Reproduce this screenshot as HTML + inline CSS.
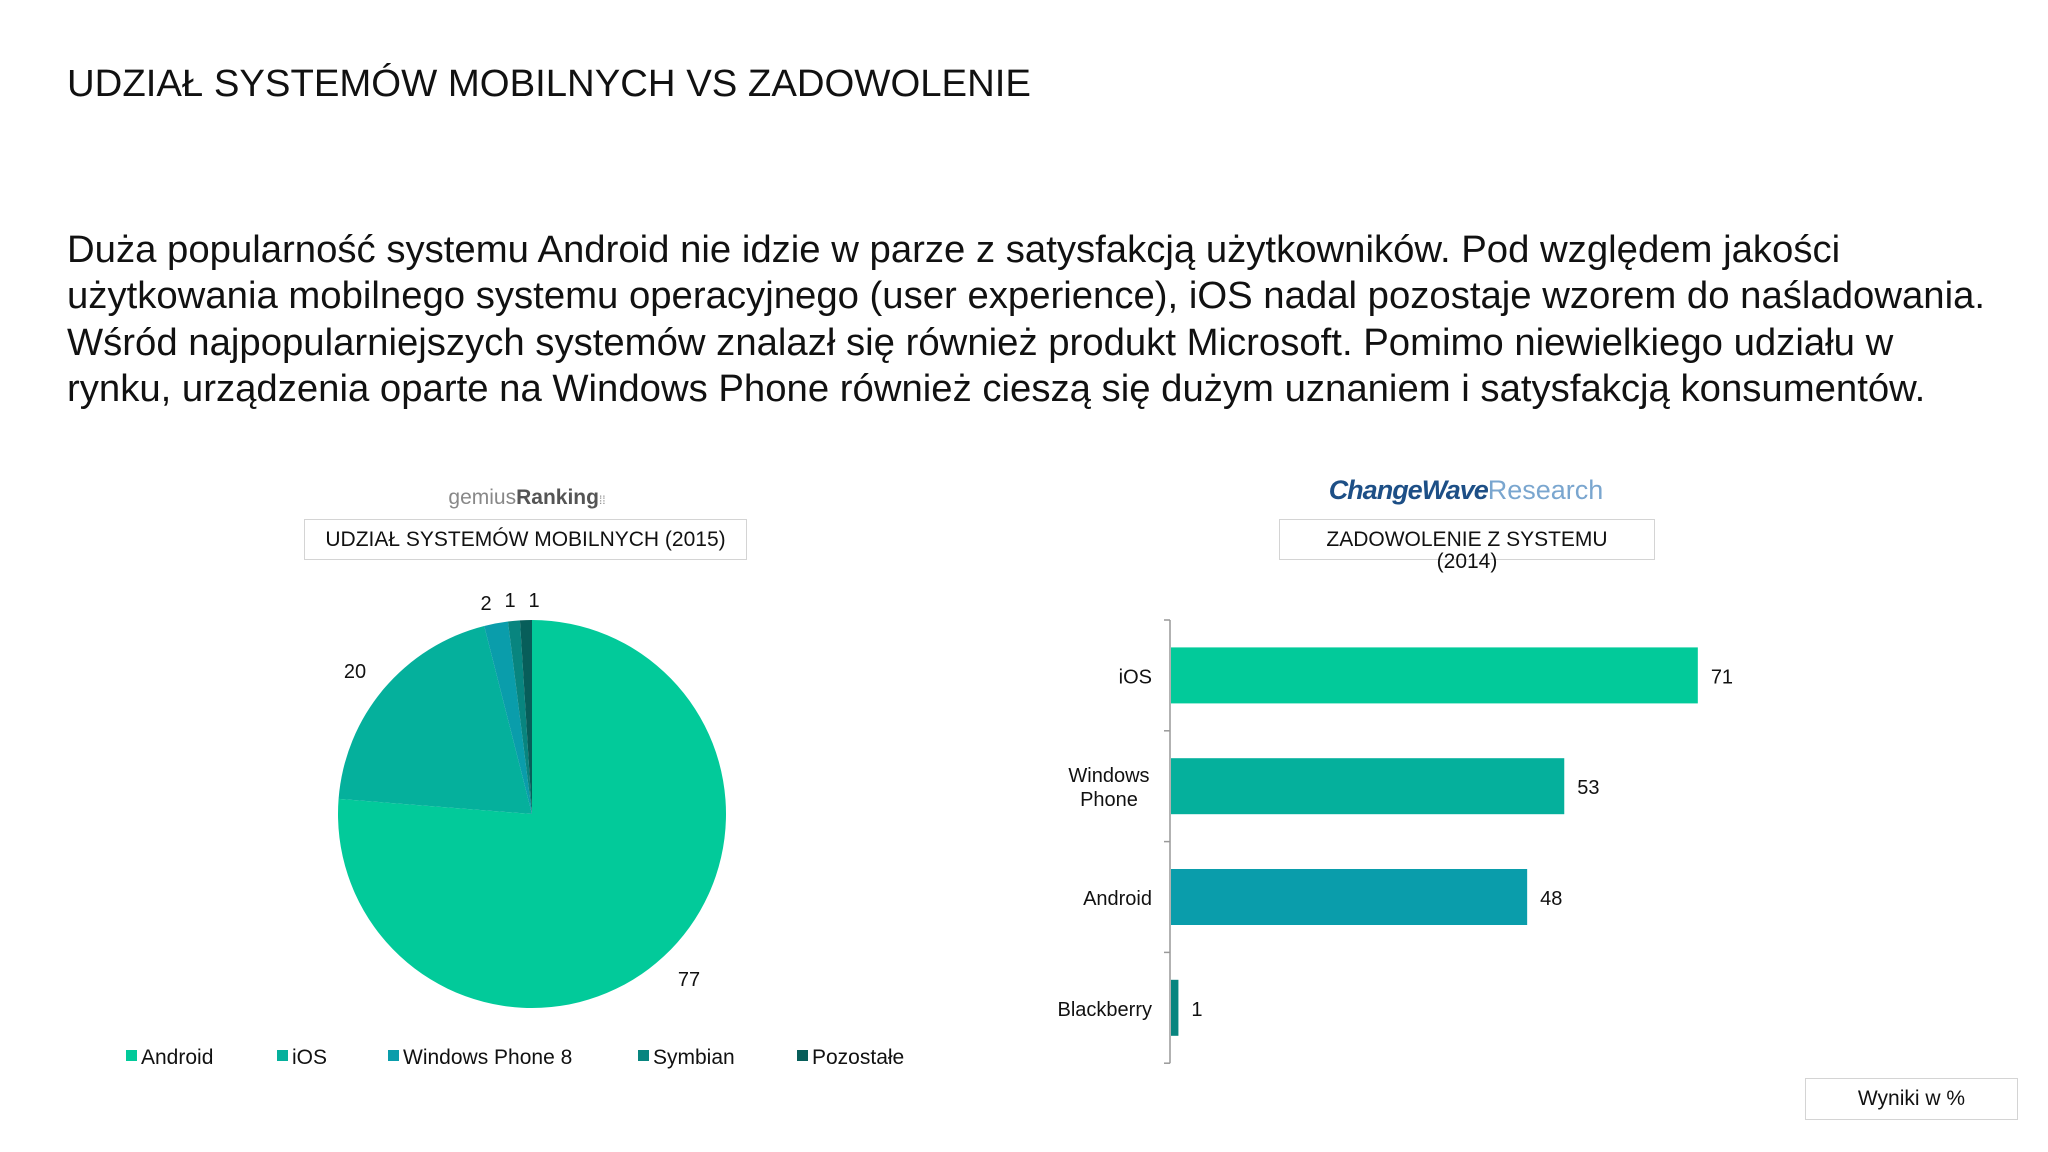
<!DOCTYPE html>
<html><head><meta charset="utf-8"><style>
body{margin:0;width:2048px;height:1152px;background:#fff;position:relative;overflow:hidden;font-family:"Liberation Sans",Arial,sans-serif;color:#111}
.abs{position:absolute}
.box{position:absolute;border:1.5px solid #d4d4d4;box-sizing:border-box;text-align:center;font-size:21px}
</style></head><body>
<div class="abs" style="left:67px;top:62px;font-size:38.3px;white-space:nowrap">UDZIAŁ SYSTEMÓW MOBILNYCH VS ZADOWOLENIE</div>
<div class="abs" style="left:67px;top:227px;font-size:38.3px;line-height:46.3px;white-space:nowrap">Duża popularność systemu Android nie idzie w parze z satysfakcją użytkowników. Pod względem jakości<br>użytkowania mobilnego systemu operacyjnego (user experience), iOS nadal pozostaje wzorem do naśladowania.<br>Wśród najpopularniejszych systemów znalazł się również produkt Microsoft. Pomimo niewielkiego udziału w<br>rynku, urządzenia oparte na Windows Phone również cieszą się dużym uznaniem i satysfakcją konsumentów.</div>

<div class="abs" style="left:427px;top:486px;width:200px;text-align:center;font-size:21px;color:#888">gemius<b style="color:#555">Ranking</b><span style="font-size:12px">⁞⁞</span></div>
<div class="box" style="left:304px;top:519px;width:443px;height:41px;line-height:39px">UDZIAŁ SYSTEMÓW MOBILNYCH (2015)</div>

<div class="abs" style="left:1313px;top:475px;width:306px;text-align:center;font-size:27px;white-space:nowrap"><i style="color:#1d4f86;font-weight:bold;letter-spacing:-1px">ChangeWave</i><span style="color:#7aa6cf">Research</span></div>
<div class="box" style="left:1279px;top:519px;width:376px;height:41px;line-height:22px;padding-top:9px;overflow:visible">ZADOWOLENIE Z SYSTEMU<br>(2014)</div>
<div class="box" style="left:1805px;top:1078px;width:213px;height:42px;line-height:40px">Wyniki w %</div>

<svg class="abs" style="left:0;top:0" width="2048" height="1152" id="svg"></svg>
<script>
const pieCats=["Android","iOS","Windows Phone 8","Symbian","Pozostałe"];
const pieVals=[77,20,2,1,1];
const pieColors=["#02CA9A","#05B09C","#0A9DAB","#08857F","#075E5A"];
const barCats=["iOS","Windows\nPhone","Android","Blackberry"];
const barVals=[71,53,48,1];
const barColors=["#02CA9A","#05B09C","#0A9DAB","#08857F"];
const NS="http://www.w3.org/2000/svg";
const svg=document.getElementById('svg');
function mk(t,a,p){const e=document.createElementNS(NS,t);for(const k in a)e.setAttribute(k,a[k]);(p||svg).appendChild(e);return e;}
// pie
const cx=532,cy=814,r=194;
const total=pieVals.reduce((a,b)=>a+b,0);
let acc=0;
pieVals.forEach((v,i)=>{
  const a0=acc/total*2*Math.PI;acc+=v;const a1=acc/total*2*Math.PI;
  const x0=cx+r*Math.sin(a0),y0=cy-r*Math.cos(a0),x1=cx+r*Math.sin(a1),y1=cy-r*Math.cos(a1);
  const p=mk('path',{d:`M${cx},${cy}L${x0},${y0}A${r},${r} 0 ${a1-a0>Math.PI?1:0} 1 ${x1},${y1}Z`,fill:pieColors[i]});
  
  
  const am=(a0+a1)/2;
  let lr=r+22;
  let lx=cx+lr*Math.sin(am),ly=cy-lr*Math.cos(am);
  if(i>=2){lx=cx-46+(i-2)*24;ly=cy-r-10-(i==2?0:3);}
  if(i==0){lx=cx+157;ly=cy+172;}
  if(i==1){lx=cx-177;ly=cy-136;}
  const t=mk('text',{x:lx,y:ly,'font-size':20,'text-anchor':'middle','font-family':'Liberation Sans, Arial, sans-serif',fill:'#111'});
  t.textContent=v;
  
  
});
const legX=[126,277,388,638,797];
pieCats.forEach((c,i)=>{
  const g=mk('g',{});
  
  
  mk('rect',{x:legX[i],y:1050,width:11,height:11,fill:pieColors[i]},g);
  const t=mk('text',{x:legX[i]+15,y:1064,'font-size':21,'font-family':'Liberation Sans, Arial, sans-serif',fill:'#111'},g);
  t.textContent=c;
});
// bars
const ax=1170,top0=620,band=110.8,scale=7.42;
const axis=mk('line',{x1:ax,y1:top0,x2:ax,y2:top0+band*4,stroke:'#999','stroke-width':1.5});


for(let k=0;k<=4;k++){mk('line',{x1:ax-6,x2:ax,y1:top0+band*k,y2:top0+band*k,stroke:'#999','stroke-width':1.5});}
barVals.forEach((v,i)=>{
  const yc=top0+band*(i+0.5);
  const b=mk('rect',{x:ax+1,y:yc-28,width:v*scale,height:56,fill:barColors[i]});
  
  
  const t=mk('text',{x:ax+v*scale+14,y:yc+8,'font-size':20,'font-family':'Liberation Sans, Arial, sans-serif',fill:'#111'});
  t.textContent=v;
  
  
  const lines=barCats[i].split('\n');
  const lt=mk('text',{x:1152,y:yc+8-(lines.length-1)*12,'font-size':20,'font-family':'Liberation Sans, Arial, sans-serif',fill:'#111','text-anchor':lines.length>1?'middle':'end'});
  
  
  lines.forEach((l,j)=>{const s=mk('tspan',{x:lines.length>1?1109:1152,dy:j?24:0},lt);s.textContent=l;});
});
</script>
</body></html>
